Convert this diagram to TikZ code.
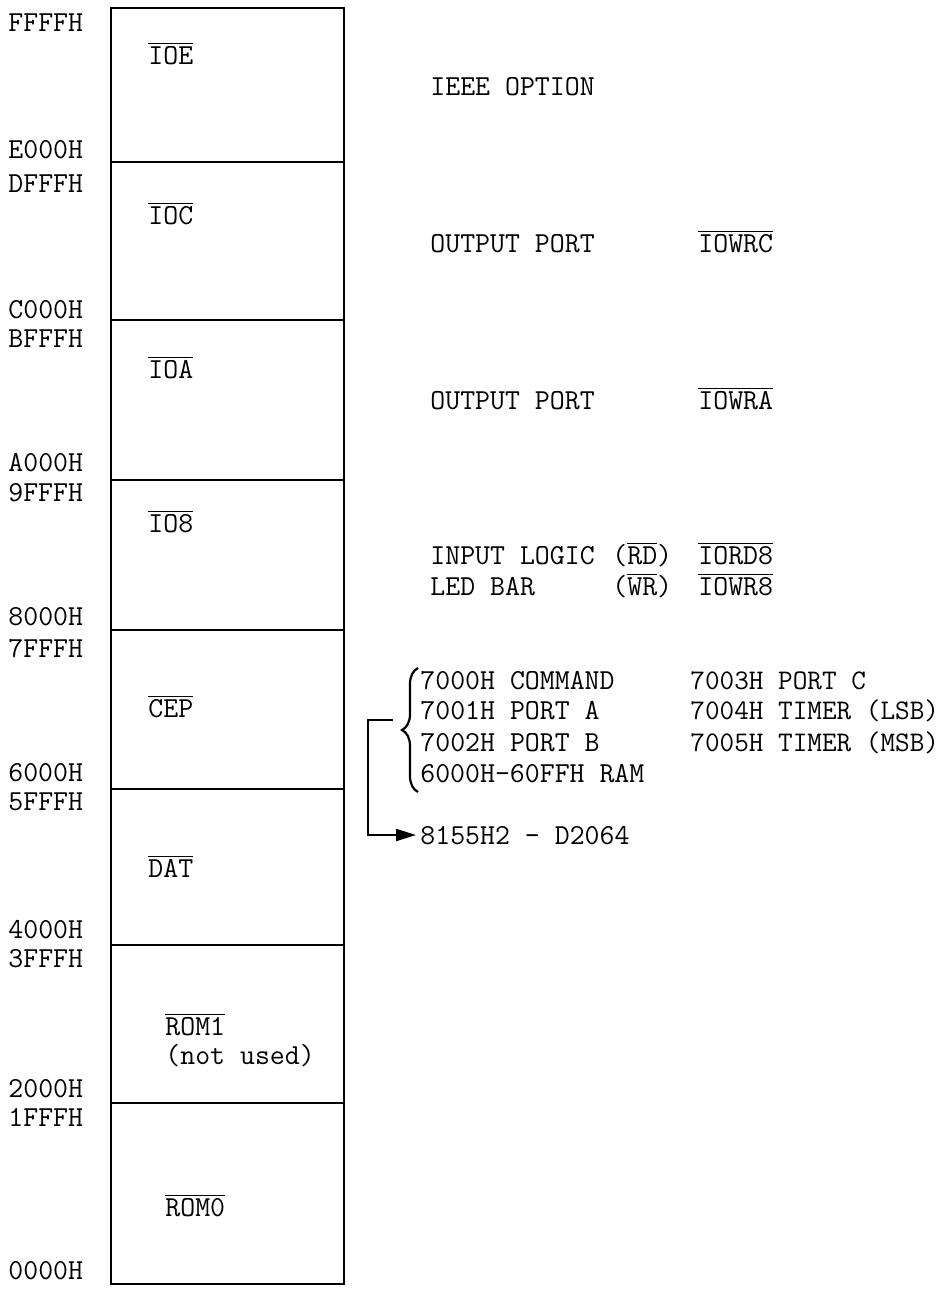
\documentclass[tikz,border=0pt]{standalone}
\usepackage{fontspec}
\usetikzlibrary{arrows.meta,decorations.pathreplacing}
\newcommand{\ob}[1]{$\overline{\mbox{#1}}$}
\begin{document}
\begin{tikzpicture}[x=0.5pt,y=-0.5pt,
  txt/.style={font=\ttfamily\fontsize{14.5}{17}\selectfont, inner sep=0pt, anchor=base west},
  reg/.style={font=\ttfamily\fontsize{14.2}{17}\selectfont, inner sep=0pt, anchor=base west},
  region/.style={draw, line width=1.3pt},
  conn/.style={line width=1.1pt}]
\useasboundingbox (0,0) rectangle (943,1291);
% memory regions
\draw[region] (111,8) rectangle (344,162);
\draw[region] (111,162) rectangle (344,320);
\draw[region] (111,320) rectangle (344,480);
\draw[region] (111,480) rectangle (344,630);
\draw[region] (111,630) rectangle (344,789);
\draw[region] (111,789) rectangle (344,945);
\draw[region] (111,945) rectangle (344,1103);
\draw[region] (111,1103) rectangle (344,1284);
% address labels
\node[txt] (aFFFF) at (8,31) {FFFFH};
\node[txt] (aE000) at (8,158) {E000H};
\node[txt] (aDFFF) at (8,192) {DFFFH};
\node[txt] (aC000) at (8,318) {C000H};
\node[txt] (aBFFF) at (8,347) {BFFFH};
\node[txt] (aA000) at (8,471) {A000H};
\node[txt] (a9FFF) at (8,501) {9FFFH};
\node[txt] (a8000) at (8,625) {8000H};
\node[txt] (a7FFF) at (8,657) {7FFFH};
\node[txt] (a6000) at (8,781) {6000H};
\node[txt] (a5FFF) at (8,810) {5FFFH};
\node[txt] (a4000) at (8,938) {4000H};
\node[txt] (a3FFF) at (8,967) {3FFFH};
\node[txt] (a2000) at (8,1097) {2000H};
\node[txt] (a1FFF) at (8,1126) {1FFFH};
\node[txt] (a0000) at (8,1279) {0000H};
% region names
\node[txt] (ioe) at (148,64) {\ob{IOE}};
\node[txt] (ioc) at (148,224) {\ob{IOC}};
\node[txt] (ioa) at (148,378) {\ob{IOA}};
\node[txt] (io8) at (148,532) {\ob{IO8}};
\node[txt] (cep) at (148,717) {\ob{CEP}};
\node[txt] (dat) at (148,877) {\ob{DAT}};
\node[txt] (rom1) at (165,1035) {\ob{ROM1}};
\node[txt] (nu) at (165,1064) {(not used)};
\node[txt] (rom0) at (165,1216) {\ob{ROM0}};
% right side descriptions
\node[txt] (ieee) at (430,95) {IEEE OPTION};
\node[txt] (op1) at (430,252) {OUTPUT PORT};
\node[txt] (iowrc) at (698,252) {\ob{IOWRC}};
\node[txt] (op2) at (430,409) {OUTPUT PORT};
\node[txt] (iowra) at (698,409) {\ob{IOWRA}};
\node[txt] (inl) at (430,564) {INPUT LOGIC};
\node[txt] (rd) at (612,564) {(\ob{RD})};
\node[txt] (iord8) at (698,564) {\ob{IORD8}};
\node[txt] (led) at (430,595) {LED BAR};
\node[txt] (wr) at (612,595) {(\ob{WR})};
\node[txt] (iowr8) at (698,595) {\ob{IOWR8}};
% 8155 registers
\node[txt] (r0) at (420,689) {7000H COMMAND};
\node[txt] (r1) at (420,719) {7001H PORT A};
\node[txt] (r2) at (420,751) {7002H PORT B};
\node[txt] (r3) at (420,782) {6000H-60FFH RAM};
\node[reg] (r4) at (690,689) {7003H PORT C};
\node[reg] (r5) at (690,719) {7004H TIMER (LSB)};
\node[reg] (r6) at (690,751) {7005H TIMER (MSB)};
\draw[conn, decorate, decoration={brace, amplitude=8pt}] (418,792) -- (418,668);
\coordinate (bt) at (393,720);
\coordinate (bend) at (368,720);
\node[txt] (chip) at (420,844) {8155H2 - D2064};
\coordinate (chipin) at (416,835);
\draw[conn, -{Triangle[length=10pt,width=6pt]}] (bt) -- (bend) |- (chipin);
\end{tikzpicture}
\end{document}
